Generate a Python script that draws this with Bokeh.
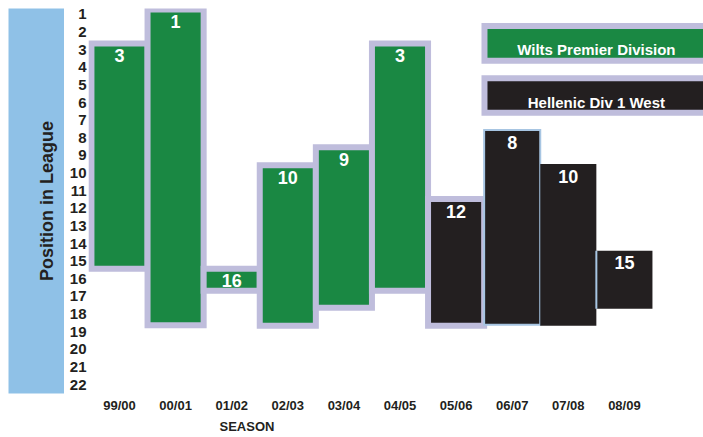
from bokeh.plotting import figure
from bokeh.models import Range1d, FixedTicker, Label, ColumnDataSource, Title
from bokeh.layouts import row
from bokeh.embed import file_html
from bokeh.resources import INLINE
from bokeh.core.properties import value

# ---------------- data ----------------
seasons = ["99/00", "00/01", "01/02", "02/03", "03/04",
           "04/05", "05/06", "06/07", "07/08", "08/09"]
positions = [3, 1, 16, 10, 9, 3, 12, 8, 10, 15]
bar_top = [2.64, 0.72, 15.43, 9.55, 8.53, 2.64, 11.47, 7.56, 9.49, 14.41]
bar_bottom = [15.43, 18.63, 16.68, 18.66, 17.64, 16.68, 18.66, 18.60, 18.66, 17.69]
leagues = ["Wilts Premier Division"] * 6 + ["Hellenic Div 1 West"] * 4
league_names = ["Wilts Premier Division", "Hellenic Div 1 West"]
position_ticks = list(range(1, 23))

# ---------------- styles ----------------
GREEN = "#1a8843"
BLACK = "#231f20"
LAV = "#bfbddc"
PANEL = "#8fc1e7"
THIN = "#a7c5e2"
TEXT = "#231f20"
FONT = "Liberation Sans"

idx = list(range(len(seasons)))
fill = [GREEN if l == league_names[0] else BLACK for l in leagues]
line_col = [LAV] * 7 + [THIN, LAV, LAV]
line_w = [6] * 7 + [2, 0, 0]
line_a = [1] * 8 + [0, 0]

src = ColumnDataSource(dict(
    left=[i - 0.5 for i in idx], right=[i + 0.5 for i in idx],
    top=bar_top, bottom=bar_bottom, fill=fill,
    lc=line_col, lw=line_w, la=line_a,
    x=idx, label=[str(v) for v in positions],
))

# ---------------- left panel (axis title) ----------------
p1 = figure(width=64, height=437, x_range=Range1d(0, 1), y_range=Range1d(0, 1),
            x_axis_location=None, y_axis_location=None, toolbar_location=None,
            output_backend="svg", min_border_left=8, min_border_right=0,
            min_border_top=8, min_border_bottom=44, background_fill_color=PANEL,
            border_fill_color="white", outline_line_color=None)
p1.grid.visible = False
p1.add_layout(Label(x=0.68, y=0.5, text="Position in League", angle=1.5707963,
                    text_align="center", text_baseline="middle",
                    text_font=FONT, text_font_style="bold",
                    text_font_size="18px", text_color=TEXT))

# ---------------- main chart ----------------
p = figure(width=639, height=437, x_range=Range1d(-0.5526, 10.41),
           y_range=Range1d(22.505, 0.66), toolbar_location=None,
           output_backend="svg", min_border_left=24, min_border_right=0,
           min_border_top=0, min_border_bottom=44, outline_line_color=None)
p.xgrid.visible = False
p.ygrid.visible = False

p.quad(left="left", right="right", top="top", bottom="bottom", source=src,
       fill_color="fill", line_color="lc", line_width="lw", line_alpha="la",
       line_join="miter")
# thin left edge on last bar
p.segment(x0=[idx[-1] - 0.5], x1=[idx[-1] - 0.5], y0=[bar_top[-1]], y1=[bar_bottom[-1]],
          line_color=THIN, line_width=2)

p.text(x="x", y="top", text="label", source=src, y_offset=12,
       text_align="center", text_baseline="middle", text_color="white",
       text_font=value(FONT), text_font_style="bold", text_font_size="18px")

# legend boxes
p.quad(left=[6.506, 6.506], right=[12, 12], top=[1.65, 4.62], bottom=[3.63, 6.57],
       fill_color=[GREEN, BLACK], line_color=LAV, line_width=6, line_join="miter")
p.text(x=[8.5, 8.5], y=[2.98, 5.98], text=league_names, text_align="center",
       text_baseline="middle", text_color="white", text_font=value(FONT),
       text_font_style="bold", text_font_size="15px")

# axes
for ax in (p.xaxis[0], p.yaxis[0]):
    ax.axis_line_color = None
    ax.major_tick_line_color = None
    ax.minor_tick_line_color = None
    ax.major_tick_out = 0
    ax.major_tick_in = 0
    ax.major_label_text_font = FONT
    ax.major_label_text_font_style = "bold"
    ax.major_label_text_color = TEXT

p.yaxis.ticker = FixedTicker(ticks=position_ticks)
p.yaxis.major_label_text_font_size = "15px"
p.yaxis.major_label_standoff = 2

p.xaxis.ticker = FixedTicker(ticks=idx)
p.xaxis.major_label_overrides = {i: s for i, s in zip(idx, seasons)}
p.xaxis.major_label_text_font_size = "13px"
p.xaxis.major_label_standoff = 4

p.add_layout(Title(text="SEASON", align="left", offset=131, standoff=3,
                   text_font=FONT, text_font_style="bold",
                   text_font_size="13px", text_color=TEXT), "below")

layout = row(p1, p)
open("out.html", "w").write(file_html(layout, INLINE))
